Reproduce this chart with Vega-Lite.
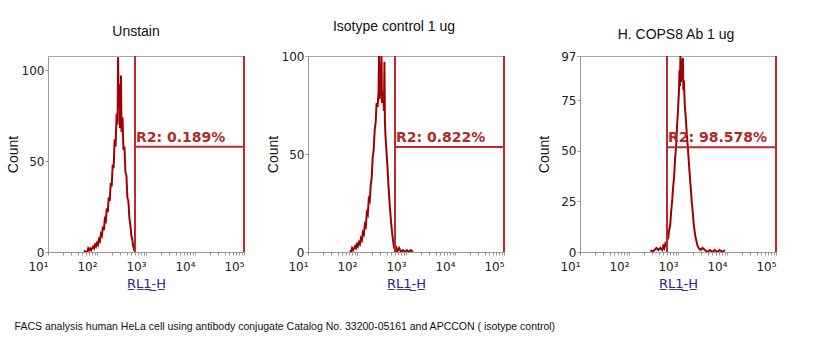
{
  "$schema": "https://vega.github.io/schema/vega-lite/v6.json",
  "padding": {"left": 5, "top": 19, "right": 0, "bottom": 0},
  "background": "white",
  "title": {"text": "FACS analysis human HeLa cell using antibody conjugate Catalog No. 33200-05161 and APCCON  ( isotype control)", "orient": "bottom", "anchor": "start", "font": "Liberation Sans", "fontSize": 10.5, "fontWeight": "normal", "color": "#111", "offset": 31, "dx": 9},
  "datasets": {
    "h1": [
      {"x":55.0,"count":1},{"x":57.5,"count":0},{"x":63.1,"count":0},{"x":66.1,"count":2},{"x":69.2,"count":1},{"x":72.4,"count":2},{"x":75.9,"count":1},{"x":79.4,"count":2},{"x":83.2,"count":3},{"x":87.1,"count":2},{"x":91.2,"count":4},{"x":95.5,"count":3},{"x":100,"count":5},{"x":104.7,"count":4},{"x":109.6,"count":7},{"x":114.8,"count":6},{"x":120.2,"count":10},{"x":125.9,"count":9},{"x":131.8,"count":14},{"x":138.0,"count":12},{"x":144.5,"count":18},{"x":151.4,"count":17},{"x":158.5,"count":24},{"x":166.0,"count":22},{"x":173.8,"count":30},{"x":182.0,"count":28},{"x":190.5,"count":38},{"x":199.5,"count":36},{"x":208.9,"count":48},{"x":218.8,"count":46},{"x":229.1,"count":62},{"x":239.9,"count":58},{"x":251.2,"count":76},{"x":263.0,"count":70},{"x":269.2,"count":107},{"x":275.4,"count":80},{"x":288.4,"count":92},{"x":295.1,"count":68},{"x":309.0,"count":97},{"x":316.2,"count":66},{"x":331.1,"count":74},{"x":346.7,"count":56},{"x":363.1,"count":58},{"x":380.2,"count":44},{"x":398.1,"count":42},{"x":416.9,"count":30},{"x":436.5,"count":28},{"x":457.1,"count":19},{"x":478.6,"count":15},{"x":501.2,"count":9},{"x":524.8,"count":7},{"x":549.5,"count":3},{"x":575.4,"count":1},{"x":602.6,"count":0}
    ],
    "h2": [
      {"x":72.4,"count":1},{"x":75.9,"count":0},{"x":79.4,"count":2},{"x":83.2,"count":1},{"x":87.1,"count":2},{"x":91.2,"count":3},{"x":95.5,"count":2},{"x":100,"count":4},{"x":104.7,"count":3},{"x":109.6,"count":5},{"x":114.8,"count":4},{"x":120.2,"count":7},{"x":125.9,"count":6},{"x":131.8,"count":10},{"x":138.0,"count":9},{"x":144.5,"count":14},{"x":151.4,"count":13},{"x":158.5,"count":20},{"x":166.0,"count":19},{"x":173.8,"count":27},{"x":182.0,"count":26},{"x":190.5,"count":34},{"x":199.5,"count":38},{"x":208.9,"count":48},{"x":218.8,"count":52},{"x":229.1,"count":62},{"x":239.9,"count":66},{"x":251.2,"count":76},{"x":263.0,"count":74},{"x":275.4,"count":82},{"x":281.8,"count":100},{"x":288.4,"count":78},{"x":302.0,"count":84},{"x":316.2,"count":100},{"x":323.6,"count":76},{"x":338.8,"count":82},{"x":354.8,"count":72},{"x":363.1,"count":97},{"x":371.5,"count":66},{"x":380.2,"count":60},{"x":398.1,"count":52},{"x":416.9,"count":44},{"x":436.5,"count":35},{"x":457.1,"count":27},{"x":478.6,"count":20},{"x":501.2,"count":14},{"x":524.8,"count":9},{"x":549.5,"count":5},{"x":575.4,"count":2},{"x":602.6,"count":1},{"x":631.0,"count":3},{"x":660.7,"count":0},{"x":724.4,"count":2},{"x":794.3,"count":0},{"x":871.0,"count":1},{"x":955.0,"count":0},{"x":1047,"count":1},{"x":1148,"count":0},{"x":1259,"count":1},{"x":1380,"count":0}
    ],
    "h3": [
      {"x":275.4,"count":1},{"x":302.0,"count":0},{"x":331.1,"count":1},{"x":363.1,"count":2},{"x":398.1,"count":1},{"x":436.5,"count":2},{"x":478.6,"count":1},{"x":501.2,"count":3},{"x":524.8,"count":2},{"x":549.5,"count":4},{"x":575.4,"count":3},{"x":602.6,"count":6},{"x":631.0,"count":7},{"x":660.7,"count":11},{"x":691.8,"count":13},{"x":724.4,"count":20},{"x":758.6,"count":25},{"x":794.3,"count":32},{"x":831.8,"count":37},{"x":871.0,"count":46},{"x":912.0,"count":52},{"x":955.0,"count":62},{"x":1000,"count":70},{"x":1047,"count":80},{"x":1072,"count":90},{"x":1096,"count":82},{"x":1122,"count":97},{"x":1148,"count":84},{"x":1202,"count":92},{"x":1259,"count":96},{"x":1288,"count":80},{"x":1318,"count":85},{"x":1380,"count":72},{"x":1445,"count":66},{"x":1514,"count":58},{"x":1585,"count":52},{"x":1660,"count":45},{"x":1738,"count":38},{"x":1820,"count":32},{"x":1905,"count":25},{"x":1995,"count":20},{"x":2089,"count":14},{"x":2188,"count":10},{"x":2291,"count":7},{"x":2399,"count":5},{"x":2512,"count":3},{"x":2630,"count":2},{"x":2884,"count":1},{"x":3162,"count":2},{"x":3548,"count":1},{"x":3981,"count":0},{"x":4467,"count":1},{"x":5012,"count":0},{"x":5623,"count":1},{"x":6310,"count":0},{"x":7079,"count":1},{"x":7943,"count":0},{"x":9120,"count":1}
    ],
    "gates": [
      {"panel":"1","left":597,"right":100000,"level":57.9,"label":"R2: 0.189%"},
      {"panel":"2","left":597,"right":100000,"level":53.6,"label":"R2: 0.822%"},
      {"panel":"3","left":597,"right":100000,"level":51.9,"label":"R2: 98.578%"}
    ]
  },
  "spacing": 31,
  "hconcat": [
    {
      "spacing": 19,
      "hconcat": [
        {
          "width": 196, "height": 196,
          "title": {"text": "Unstain", "dx": -10},
          "layer": [
            {"data": {"name": "h1"}, "mark": {"type": "line", "color": "#a00000", "strokeWidth": 2, "clip": true},
             "encoding": {
               "x": {"field": "x", "type": "quantitative", "scale": {"type": "log", "domain": [10, 100000], "nice": false}, "axis": {"values": [10,20,30,40,50,60,70,80,90,100,200,300,400,500,600,700,800,900,1000,2000,3000,4000,5000,6000,7000,8000,9000,10000,20000,30000,40000,50000,60000,70000,80000,90000,100000], "labelExpr": "datum.value==10?'10¹':datum.value==100?'10²':datum.value==1000?'10³':datum.value==10000?'10⁴':datum.value==100000?'10⁵':''", "title": "R̲L̲1̲-̲H̲"}},
               "y": {"field": "count", "type": "quantitative", "scale": {"domain": [0, 107.7], "nice": false}, "axis": {"values": [0, 50, 100], "title": "Count"}}
             }},
            {"data": {"name": "gates"}, "transform": [{"filter": "datum.panel=='1'"}], "mark": {"type": "rule", "color": "#c0282c", "strokeWidth": 2}, "encoding": {"x": {"field": "left", "type": "quantitative"}}},
            {"data": {"name": "gates"}, "transform": [{"filter": "datum.panel=='1'"}], "mark": {"type": "rule", "color": "#c0282c", "strokeWidth": 2}, "encoding": {"x": {"field": "right", "type": "quantitative"}}},
            {"data": {"name": "gates"}, "transform": [{"filter": "datum.panel=='1'"}], "mark": {"type": "rule", "color": "#c0282c", "strokeWidth": 2}, "encoding": {"x": {"field": "left", "type": "quantitative"}, "x2": {"field": "right"}, "y": {"field": "level", "type": "quantitative"}}},
            {"data": {"name": "gates"}, "transform": [{"filter": "datum.panel=='1'"}], "mark": {"type": "text", "color": "#b02a2a", "font": "DejaVu Sans", "fontSize": 14, "fontWeight": "bold", "align": "left", "baseline": "bottom", "dx": 1, "dy": -2}, "encoding": {"x": {"field": "left", "type": "quantitative"}, "y": {"field": "level", "type": "quantitative"}, "text": {"field": "label"}}}
          ]
        },
        {
          "width": 196, "height": 196,
          "title": {"text": "Isotype control 1 ug", "dx": -12},
          "layer": [
            {"data": {"name": "h2"}, "mark": {"type": "line", "color": "#a00000", "strokeWidth": 2, "clip": true},
             "encoding": {
               "x": {"field": "x", "type": "quantitative", "scale": {"type": "log", "domain": [10, 100000], "nice": false}, "axis": {"values": [10,20,30,40,50,60,70,80,90,100,200,300,400,500,600,700,800,900,1000,2000,3000,4000,5000,6000,7000,8000,9000,10000,20000,30000,40000,50000,60000,70000,80000,90000,100000], "labelExpr": "datum.value==10?'10¹':datum.value==100?'10²':datum.value==1000?'10³':datum.value==10000?'10⁴':datum.value==100000?'10⁵':''", "title": "R̲L̲1̲-̲H̲"}},
               "y": {"field": "count", "type": "quantitative", "scale": {"domain": [0, 100], "nice": false}, "axis": {"values": [0, 50, 100], "title": "Count"}}
             }},
            {"data": {"name": "gates"}, "transform": [{"filter": "datum.panel=='2'"}], "mark": {"type": "rule", "color": "#c0282c", "strokeWidth": 2}, "encoding": {"x": {"field": "left", "type": "quantitative"}}},
            {"data": {"name": "gates"}, "transform": [{"filter": "datum.panel=='2'"}], "mark": {"type": "rule", "color": "#c0282c", "strokeWidth": 2}, "encoding": {"x": {"field": "right", "type": "quantitative"}}},
            {"data": {"name": "gates"}, "transform": [{"filter": "datum.panel=='2'"}], "mark": {"type": "rule", "color": "#c0282c", "strokeWidth": 2}, "encoding": {"x": {"field": "left", "type": "quantitative"}, "x2": {"field": "right"}, "y": {"field": "level", "type": "quantitative"}}},
            {"data": {"name": "gates"}, "transform": [{"filter": "datum.panel=='2'"}], "mark": {"type": "text", "color": "#b02a2a", "font": "DejaVu Sans", "fontSize": 14, "fontWeight": "bold", "align": "left", "baseline": "bottom", "dx": 1, "dy": -2}, "encoding": {"x": {"field": "left", "type": "quantitative"}, "y": {"field": "level", "type": "quantitative"}, "text": {"field": "label"}}}
          ]
        }
      ]
    },
    {
      "width": 196, "height": 196,
      "title": {"text": "H. COPS8 Ab 1 ug", "offset": 8, "dx": -2},
      "layer": [
        {"data": {"name": "h3"}, "mark": {"type": "line", "color": "#a00000", "strokeWidth": 2, "clip": true},
         "encoding": {
           "x": {"field": "x", "type": "quantitative", "scale": {"type": "log", "domain": [10, 100000], "nice": false}, "axis": {"values": [10,20,30,40,50,60,70,80,90,100,200,300,400,500,600,700,800,900,1000,2000,3000,4000,5000,6000,7000,8000,9000,10000,20000,30000,40000,50000,60000,70000,80000,90000,100000], "labelExpr": "datum.value==10?'10¹':datum.value==100?'10²':datum.value==1000?'10³':datum.value==10000?'10⁴':datum.value==100000?'10⁵':''", "title": "R̲L̲1̲-̲H̲"}},
           "y": {"field": "count", "type": "quantitative", "scale": {"domain": [0, 97], "nice": false}, "axis": {"values": [0, 25, 50, 75, 97], "title": "Count", "titlePadding": 9}}
         }},
        {"data": {"name": "gates"}, "transform": [{"filter": "datum.panel=='3'"}], "mark": {"type": "rule", "color": "#c0282c", "strokeWidth": 2}, "encoding": {"x": {"field": "left", "type": "quantitative"}}},
        {"data": {"name": "gates"}, "transform": [{"filter": "datum.panel=='3'"}], "mark": {"type": "rule", "color": "#c0282c", "strokeWidth": 2}, "encoding": {"x": {"field": "right", "type": "quantitative"}}},
        {"data": {"name": "gates"}, "transform": [{"filter": "datum.panel=='3'"}], "mark": {"type": "rule", "color": "#c0282c", "strokeWidth": 2}, "encoding": {"x": {"field": "left", "type": "quantitative"}, "x2": {"field": "right"}, "y": {"field": "level", "type": "quantitative"}}},
        {"data": {"name": "gates"}, "transform": [{"filter": "datum.panel=='3'"}], "mark": {"type": "text", "color": "#b02a2a", "font": "DejaVu Sans", "fontSize": 14, "fontWeight": "bold", "align": "left", "baseline": "bottom", "dx": 1, "dy": -2}, "encoding": {"x": {"field": "left", "type": "quantitative"}, "y": {"field": "level", "type": "quantitative"}, "text": {"field": "label"}}}
      ]
    }
  ],
  "config": {
    "view": {"stroke": "#a8a8a8", "strokeWidth": 1},
    "title": {"font": "Liberation Sans", "fontSize": 14, "fontWeight": "normal", "color": "#111", "offset": 16},
    "axis": {"grid": false, "labelFont": "DejaVu Sans", "labelFontSize": 12, "labelColor": "#222", "labelOverlap": false, "labelPadding": 1, "domainColor": "#999", "tickColor": "#999", "tickSize": 3, "titleFontWeight": "normal", "titleFontSize": 14},
    "axisX": {"titleFont": "DejaVu Sans", "titleColor": "#27278a", "titleFontSize": 13, "titlePadding": 5, "labelAlign": "right", "labelDx": 5, "labelPadding": 6},
    "axisY": {"titleFont": "Liberation Sans", "titleColor": "#111", "titlePadding": 1}
  }
}
